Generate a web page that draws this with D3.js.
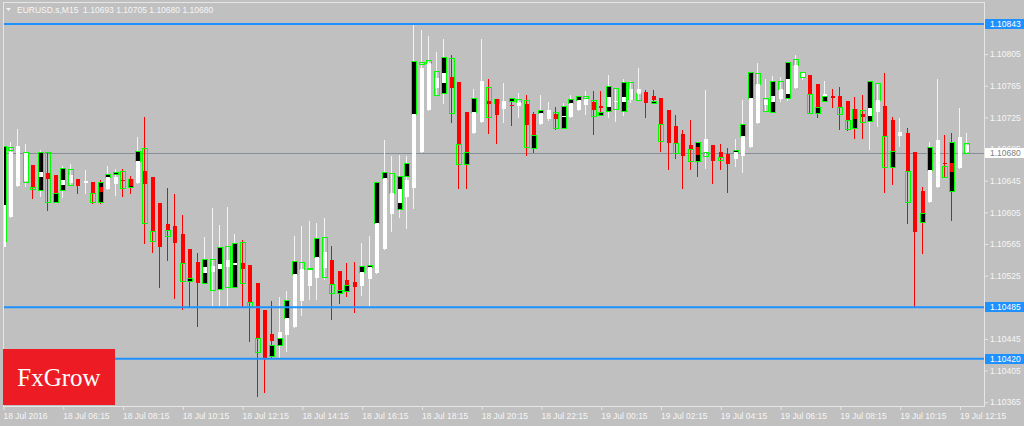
<!DOCTYPE html>
<html><head><meta charset="utf-8">
<script src="https://cdn.jsdelivr.net/npm/d3@7"></script>
<style>html,body{margin:0;padding:0;background:#c0c0c0;overflow:hidden}</style>
</head><body><svg id="c" width="1024" height="426"></svg>
<script>
// ---- data (EURUSD.s, M15, 130 bars from 18 Jul 2016 04:15) ----
const high = [1.10691,1.10694,1.10710,1.10691,1.10665,1.10684,1.10681,1.10652,1.10664,1.10666,
1.10647,1.10658,1.10643,1.10646,1.10664,1.10660,1.10660,1.10651,1.10700,1.10725,
1.10650,1.10617,1.10636,1.10628,1.10602,1.10559,1.10554,1.10574,1.10610,1.10589,
1.10612,1.10578,1.10570,1.10538,1.10516,1.10481,1.10493,1.10498,1.10505,1.10575,
1.10588,1.10594,1.10591,1.10598,1.10562,1.10531,1.10541,1.10542,1.10566,1.10575,
1.10643,1.10696,1.10676,1.10677,1.10676,1.10842,1.10835,1.10828,1.10808,1.10824,
1.10804,1.10770,1.10732,1.10761,1.10824,1.10773,1.10748,1.10768,1.10749,1.10756,
1.10753,1.10732,1.10753,1.10744,1.10738,1.10743,1.10753,1.10752,1.10758,1.10758,
1.10758,1.10778,1.10762,1.10773,1.10771,1.10787,1.10760,1.10760,1.10749,1.10734,
1.10728,1.10709,1.10722,1.10694,1.10760,1.10690,1.10691,1.10686,1.10698,1.10747,
1.10782,1.10794,1.10773,1.10777,1.10776,1.10795,1.10804,1.10782,1.10778,1.10767,
1.10771,1.10761,1.10763,1.10746,1.10751,1.10753,1.10771,1.10768,1.10781,1.10725,
1.10724,1.10712,1.10681,1.10637,1.10694,1.10773,1.10703,1.10705,1.10737,1.10705];
const low = [1.10560,1.10599,1.10638,1.10638,1.10623,1.10626,1.10608,1.10618,1.10624,1.10639,
1.10629,1.10629,1.10617,1.10617,1.10634,1.10627,1.10626,1.10629,1.10642,1.10566,
1.10555,1.10511,1.10545,1.10497,1.10483,1.10485,1.10461,1.10516,1.10487,1.10487,
1.10487,1.10511,1.10485,1.10442,1.10373,1.10378,1.10421,1.10422,1.10430,1.10460,
1.10475,1.10495,1.10495,1.10521,1.10470,1.10490,1.10499,1.10479,1.10500,1.10487,
1.10528,1.10559,1.10581,1.10599,1.10585,1.10610,1.10681,1.10734,1.10753,1.10743,
1.10719,1.10636,1.10636,1.10705,1.10719,1.10705,1.10693,1.10719,1.10715,1.10725,
1.10677,1.10681,1.10717,1.10722,1.10710,1.10712,1.10725,1.10734,1.10729,1.10704,
1.10728,1.10725,1.10720,1.10728,1.10744,1.10747,1.10725,1.10743,1.10682,1.10660,
1.10674,1.10636,1.10660,1.10651,1.10661,1.10642,1.10660,1.10631,1.10664,1.10656,
1.10687,1.10718,1.10733,1.10732,1.10746,1.10747,1.10762,1.10773,1.10731,1.10725,
1.10746,1.10738,1.10710,1.10709,1.10699,1.10699,1.10685,1.10714,1.10631,1.10641,
1.10689,1.10591,1.10485,1.10554,1.10618,1.10637,1.10650,1.10595,1.10661,1.10680];
// Heiken Ashi overlay bodies
const haOpen = [1.10561,1.10599,1.10638,1.10645,1.10665,1.10650,1.10655,1.10652,1.10639,1.10642,
1.10647,1.10642,1.10643,1.10637,1.10634,1.10641,1.10646,1.10647,1.10642,1.10657,
1.10650,1.10617,1.10590,1.10588,1.10578,1.10559,1.10542,1.10528,1.10530,1.10533,
1.10536,1.10538,1.10541,1.10538,1.10516,1.10481,1.10451,1.10446,1.10450,1.10460,
1.10493,1.10512,1.10522,1.10535,1.10545,1.10531,1.10519,1.10517,1.10512,1.10521,
1.10528,1.10559,1.10603,1.10617,1.10624,1.10636,1.10681,1.10734,1.10762,1.10768,
1.10776,1.10770,1.10732,1.10705,1.10719,1.10746,1.10748,1.10736,1.10741,1.10739,
1.10742,1.10729,1.10717,1.10723,1.10729,1.10725,1.10725,1.10734,1.10741,1.10744,
1.10739,1.10738,1.10744,1.10744,1.10747,1.10754,1.10757,1.10752,1.10749,1.10734,
1.10714,1.10704,1.10690,1.10687,1.10681,1.10690,1.10681,1.10679,1.10672,1.10676,
1.10687,1.10718,1.10741,1.10744,1.10748,1.10754,1.10762,1.10776,1.10778,1.10767,
1.10752,1.10752,1.10752,1.10746,1.10736,1.10729,1.10727,1.10732,1.10739,1.10722,
1.10701,1.10705,1.10681,1.10632,1.10618,1.10637,1.10667,1.10667,1.10661,1.10681];
const haClose = [1.10614,1.10681,1.10689,1.10680,1.10637,1.10656,1.10647,1.10629,1.10646,1.10652,
1.10638,1.10645,1.10629,1.10631,1.10650,1.10650,1.10645,1.10638,1.10670,1.10641,
1.10581,1.10561,1.10583,1.10566,1.10541,1.10522,1.10516,1.10536,1.10537,1.10540,
1.10545,1.10541,1.10533,1.10492,1.10446,1.10421,1.10442,1.10454,1.10471,1.10527,
1.10533,1.10532,1.10548,1.10555,1.10514,1.10507,1.10513,1.10511,1.10530,1.10536,
1.10591,1.10648,1.10629,1.10634,1.10646,1.10729,1.10787,1.10794,1.10775,1.10781,
1.10762,1.10691,1.10681,1.10732,1.10771,1.10742,1.10728,1.10746,1.10739,1.10744,
1.10715,1.10703,1.10731,1.10734,1.10723,1.10727,1.10743,1.10747,1.10748,1.10734,
1.10737,1.10751,1.10746,1.10751,1.10761,1.10761,1.10743,1.10747,1.10717,1.10693,
1.10693,1.10676,1.10685,1.10677,1.10698,1.10670,1.10675,1.10666,1.10681,1.10701,
1.10749,1.10767,1.10747,1.10752,1.10761,1.10773,1.10791,1.10781,1.10754,1.10738,
1.10754,1.10749,1.10738,1.10722,1.10723,1.10725,1.10737,1.10747,1.10701,1.10682,
1.10706,1.10657,1.10580,1.10604,1.10658,1.10696,1.10666,1.10656,1.10700,1.10690];
// real candle bodies (null = hidden)
const open = [1.10569,1.10687,null,1.10681,1.10637,1.10633,1.10681,1.10618,1.10633,1.10660,
null,null,1.10629,1.10618,1.10650,1.10653,1.10657,1.10637,1.10670,1.10686,
1.10581,null,1.10583,null,1.10541,1.10518,null,1.10516,1.10546,1.10508,
1.10562,1.10511,1.10567,1.10492,1.10446,null,1.10423,1.10437,1.10471,1.10527,
1.10542,1.10533,1.10548,1.10574,1.10514,1.10503,1.10505,null,1.10530,1.10536,
1.10591,1.10648,1.10655,1.10609,1.10651,1.10729,1.10795,1.10797,1.10784,1.10756,
1.10800,1.10691,1.10666,1.10732,null,1.10763,1.10743,null,1.10746,1.10748,
1.10747,1.10686,1.10731,null,1.10732,1.10712,1.10743,1.10747,1.10752,1.10747,
1.10728,1.10733,1.10762,1.10733,1.10770,1.10756,null,1.10743,1.10717,null,
1.10693,null,1.10685,1.10670,1.10681,null,1.10675,null,1.10681,1.10701,
1.10749,1.10781,1.10749,1.10732,1.10771,1.10749,1.10799,1.10782,1.10754,1.10731,
1.10746,null,1.10738,1.10722,1.10712,1.10734,1.10720,1.10768,1.10701,1.10662,
null,1.10657,null,1.10593,1.10658,null,1.10664,1.10632,null,1.10693];
const close = [1.10689,1.10684,null,1.10643,1.10634,1.10681,1.10618,1.10629,1.10661,1.10639,
null,null,1.10618,1.10643,1.10653,1.10656,1.10636,1.10647,1.10682,1.10591,
1.10569,null,1.10575,null,1.10518,1.10522,null,1.10546,1.10507,1.10561,
1.10511,1.10566,1.10516,1.10487,1.10428,null,1.10437,1.10446,1.10494,1.10543,
1.10533,1.10535,1.10572,1.10523,1.10503,1.10507,1.10513,null,1.10537,1.10538,
1.10643,1.10656,1.10629,1.10651,1.10667,1.10796,1.10792,1.10794,1.10753,1.10801,
1.10731,1.10666,1.10681,1.10749,null,1.10725,1.10748,null,1.10749,1.10744,
1.10687,1.10703,1.10734,null,1.10712,1.10739,1.10748,1.10752,1.10749,1.10727,
1.10732,1.10765,1.10736,1.10770,1.10748,1.10747,null,1.10746,1.10695,null,
1.10680,null,1.10670,1.10694,1.10676,null,1.10671,null,1.10684,1.10717,
1.10782,1.10767,1.10733,1.10771,1.10761,1.10795,1.10791,1.10776,1.10731,1.10738,
1.10752,null,1.10729,1.10710,1.10736,1.10719,1.10771,1.10747,1.10662,1.10682,
null,1.10618,null,1.10604,1.10687,null,1.10650,1.10694,null,1.10680];

const timeLabels = ["18 Jul 2016","18 Jul 06:15","18 Jul 08:15","18 Jul 10:15","18 Jul 12:15",
"18 Jul 14:15","18 Jul 16:15","18 Jul 18:15","18 Jul 20:15","18 Jul 22:15","19 Jul 00:15",
"19 Jul 02:15","19 Jul 04:15","19 Jul 06:15","19 Jul 08:15","19 Jul 10:15","19 Jul 12:15"];
const timeTickBars = [0,8,16,24,32,40,48,56,64,72,80,88,96,104,112,120,128];
const priceTicks = [1.10365,1.10405,1.10445,1.10485,1.10525,1.10565,1.10605,1.10645,1.10685,1.10725,1.10765,1.10805,1.10845];
const levelLines = [1.10843,1.10485,1.10420];
const bidPrice = 1.10680;
const headerText = "EURUSD.s,M15  1.10693 1.10705 1.10680 1.10680";
const logoText = "FxGrow";

// ---- drawing ----
const W = 1024, H = 426;
const P = {l:3, r:984, t:2, b:406};
const FONT = "'Liberation Sans', Arial, sans-serif";
const svg = d3.select("#c");
svg.append("rect").attr("width",W).attr("height",H).attr("fill","#c0c0c0");

const x = d3.scaleLinear().domain([0, high.length-1]).range([3.5, 967.4]);
const y = d3.scaleLinear().domain([1.10365, 1.10843]).range([402.2, 24]);

svg.append("defs").append("clipPath").attr("id","plot")
  .append("rect").attr("x",P.l).attr("y",P.t).attr("width",P.r-P.l).attr("height",P.b-P.t);

const plot = svg.append("g").attr("clip-path","url(#plot)");

// bid line
plot.append("line").attr("x1",P.l).attr("x2",P.r)
  .attr("y1",Math.round(y(bidPrice))+0.5).attr("y2",Math.round(y(bidPrice))+0.5)
  .attr("stroke","#858d96").attr("stroke-width",1);

const idx = d3.range(high.length);
const cx = i => Math.round(x(i));
const up = i => haClose[i] >= haOpen[i];
const RED = "#ff0000", WHITE = "#ffffff", LIME = "#00ff00";

// wicks
plot.append("g").selectAll("line").data(idx).join("line")
  .attr("x1", i => cx(i)-0.5).attr("x2", i => cx(i)-0.5)
  .attr("y1", i => Math.round(y(high[i]))).attr("y2", i => Math.round(y(low[i]))+1)
  .attr("stroke", i => up(i) ? "#f4f4f4" : RED).attr("stroke-width",1)
  .attr("shape-rendering","crispEdges");

// real candle bodies: lime outline, black fill when bullish, hollow when bearish
plot.append("g").selectAll("rect").data(idx.filter(i => open[i] !== null)).join("rect")
  .attr("x", i => cx(i)-2.5)
  .attr("y", i => Math.round(y(Math.max(open[i],close[i])))+0.5)
  .attr("width", 5)
  .attr("height", i => Math.max(1, Math.round(y(Math.min(open[i],close[i]))) - Math.round(y(Math.max(open[i],close[i])))))
  .attr("fill", i => close[i] > open[i] ? "#000000" : "none")
  .attr("stroke", LIME).attr("stroke-width",1)
  .attr("shape-rendering","crispEdges");

// Heiken Ashi bodies
plot.append("g").selectAll("rect").data(idx).join("rect")
  .attr("x", i => cx(i)-2)
  .attr("y", i => Math.round(y(Math.max(haOpen[i],haClose[i]))))
  .attr("width", 4)
  .attr("height", i => Math.max(1, Math.round(y(Math.min(haOpen[i],haClose[i]))) - Math.round(y(Math.max(haOpen[i],haClose[i])))))
  .attr("fill", i => up(i) ? WHITE : RED)
  .attr("shape-rendering","crispEdges");

// horizontal level lines
plot.append("g").selectAll("line").data(levelLines).join("line")
  .attr("x1",P.l).attr("x2",P.r)
  .attr("y1", d => y(d)).attr("y2", d => y(d))
  .attr("stroke","#1e90ff").attr("stroke-width",2);

// frame
svg.append("rect").attr("x",P.l+0.5).attr("y",P.t+0.5).attr("width",P.r-P.l).attr("height",P.b-P.t)
  .attr("fill","none").attr("stroke","#e6e6e6").attr("stroke-width",1).attr("shape-rendering","crispEdges");

// price axis
const yAxis = svg.append("g").attr("transform",`translate(${P.r},0)`)
  .call(d3.axisRight(y).tickValues(priceTicks).tickSize(4).tickPadding(2).tickFormat(d3.format(".5f")));
yAxis.select(".domain").remove();
yAxis.selectAll("line").attr("stroke","#e6e6e6");
yAxis.selectAll("text").attr("fill","#f6f6f6").style("font-family",FONT).style("font-size","8.5px");

// time axis
const xAxis = svg.append("g").attr("transform",`translate(0,${P.b})`)
  .call(d3.axisBottom(x).tickValues(timeTickBars).tickSize(4).tickPadding(3).tickFormat((d,i) => timeLabels[i]));
xAxis.select(".domain").remove();
xAxis.selectAll("line").attr("stroke","#e6e6e6");
xAxis.selectAll("text").attr("fill","#f6f6f6").attr("text-anchor","start").attr("x",-0.5)
  .style("font-family",FONT).style("font-size","8.5px");

// price labels for lines
const tags = levelLines.map(v => ({v, bg:"#1e90ff", fg:"#ffffff"})).concat([{v:bidPrice, bg:"#ffffff", fg:"#808080"}]);
const tg = svg.append("g").selectAll("g").data(tags).join("g")
  .attr("transform", d => `translate(${P.r+1},${Math.round(y(d.v))})`);
tg.append("rect").attr("x",0).attr("y",-5).attr("width",W-P.r).attr("height",10).attr("fill", d => d.bg);
tg.append("text").attr("x",5).attr("y",3.2).attr("fill", d => d.fg)
  .style("font-family",FONT).style("font-size","8.5px").text(d => d3.format(".5f")(d.v));

// logo box
svg.append("rect").attr("x",3).attr("y",349).attr("width",112).attr("height",56).attr("fill","#ed1c24");
svg.append("text").attr("x",59).attr("y",386).attr("text-anchor","middle").attr("fill","#ffffff")
  .style("font-family","'Liberation Serif','Times New Roman',serif").style("font-size","25px").text(logoText);

// header
svg.append("path").attr("d","M6,8 L11,8 L8.5,11 Z").attr("fill","#f4f4f4");
svg.append("text").attr("x",17).attr("y",13).attr("fill","#f6f6f6").attr("xml:space","preserve")
  .style("white-space","pre").style("font-family",FONT).style("font-size","8.5px").text(headerText);
</script></body></html>
